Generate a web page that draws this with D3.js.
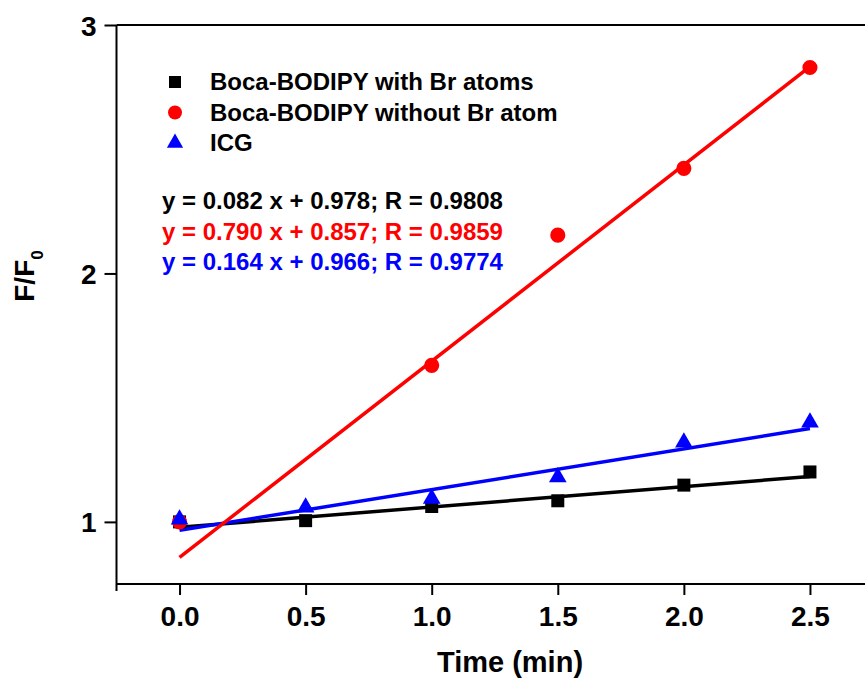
<!DOCTYPE html>
<html lang="en">
<head>
<meta charset="UTF-8">
<title>F/F0 vs time</title>
<script src="https://cdn.jsdelivr.net/npm/d3@7/dist/d3.min.js"></script>
<style>
body { margin: 0; background: #fff; }
text { font-family: "Liberation Sans", Arial, sans-serif; font-weight: bold; }
</style>
</head>
<body>
<svg width="865" height="678"></svg>
<script>
// data
var seriesNames = ["Boca-BODIPY with Br atoms", "Boca-BODIPY without Br atom", "ICG"];
var colors = ["#000000", "#ff0000", "#0000ff"];
var brX = [0, 0.5, 1.0, 1.5, 2.0, 2.5];
var brY = [1.00, 1.005, 1.062, 1.085, 1.148, 1.201];
var noBrX = [0, 1.0, 1.5, 2.0, 2.5];
var noBrY = [1.00, 1.63, 2.154, 2.423, 2.829];
var icgX = [0, 0.5, 1.0, 1.5, 2.0, 2.5];
var icgY = [1.01, 1.058, 1.094, 1.18, 1.32, 1.40];
var slopes = [0.082, 0.790, 0.164];
var intercepts = [0.978, 0.857, 0.966];
var rValues = ["0.9808", "0.9859", "0.9774"];
var xTicks = [0, 0.5, 1.0, 1.5, 2.0, 2.5];
var yTicks = [1, 2, 3];

var svg = d3.select("svg");
var x = d3.scaleLinear().domain([-0.25, 2.75]).range([116.5, 873]);
var y = d3.scaleLinear().domain([0.75, 3]).range([584, 25]);

// axes
var xAxis = svg.append("g").attr("transform", "translate(0,584)");
xAxis.call(d3.axisBottom(x).tickValues(d3.range(-0.25, 2.76, 0.25)).tickSize(7).tickFormat(""));
xAxis.call(d3.axisBottom(x).tickValues(xTicks).tickSize(11).tickPadding(11).tickFormat(d3.format(".1f")));
var yAxis = svg.append("g").attr("transform", "translate(116.5,0)");
yAxis.call(d3.axisLeft(y).tickValues([1.5, 2.5]).tickSize(7).tickFormat(""));
yAxis.call(d3.axisLeft(y).tickValues(yTicks).tickSize(12).tickPadding(8).tickFormat(d3.format("d")));
svg.selectAll(".domain").remove();
svg.selectAll(".tick line").attr("stroke", "#000").attr("stroke-width", 2);
svg.selectAll(".tick text").attr("fill", "#000").style("font-size", "28px");
xAxis.selectAll(".tick text").attr("dy", "0.71em");
yAxis.selectAll(".tick text").attr("dy", "0.36em");

// frame
svg.append("line").attr("x1", x(-0.25)).attr("x2", x(2.75)).attr("y1", y(0.75)).attr("y2", y(0.75))
  .attr("stroke", "#000").attr("stroke-width", 2);
svg.append("line").attr("x1", x(-0.25)).attr("x2", x(2.75)).attr("y1", y(3)).attr("y2", y(3))
  .attr("stroke", "#000").attr("stroke-width", 2);
svg.append("line").attr("x1", x(-0.25)).attr("x2", x(-0.25)).attr("y1", y(3)).attr("y2", y(0.75) + 7)
  .attr("stroke", "#000").attr("stroke-width", 2);

// axis titles
svg.append("text").attr("x", 510).attr("y", 672).attr("text-anchor", "middle")
  .style("font-size", "29px").text("Time (min)");
var yt = svg.append("text").attr("transform", "translate(34,276) rotate(-90)")
  .attr("text-anchor", "middle").style("font-size", "28px");
yt.append("tspan").text("F/F");
yt.append("tspan").attr("dy", 9).style("font-size", "17px").text("0");

// fit lines
var fits = slopes.map(function(s, i) {
  return [[0, intercepts[i]], [2.5, s * 2.5 + intercepts[i]]];
});
var line = d3.line().x(function(d) { return x(d[0]); }).y(function(d) { return y(d[1]); });
[0, 2, 1].forEach(function(i) {
  svg.append("path").attr("d", line(fits[i])).attr("fill", "none")
    .attr("stroke", colors[i]).attr("stroke-width", 3.5);
});

// markers
var shapes = [d3.symbolSquare, d3.symbolCircle, d3.symbolTriangle];
var sizes = [169, 180, 135];
var series = [[brX, brY], [noBrX, noBrY], [icgX, icgY]];
series.forEach(function(s, i) {
  svg.append("g").selectAll("path").data(s[0]).enter().append("path")
    .attr("d", d3.symbol().type(shapes[i]).size(sizes[i]))
    .attr("transform", function(d, j) { return "translate(" + x(d) + "," + y(s[1][j]) + ")"; })
    .attr("fill", colors[i]);
});

// legend
var legend = svg.append("g");
seriesNames.forEach(function(n, i) {
  var ly = 82 + i * 30.5;
  legend.append("path").attr("d", d3.symbol().type(shapes[i]).size(sizes[i] * 0.85))
    .attr("transform", "translate(175," + ly + ")").attr("fill", colors[i]);
  legend.append("text").attr("x", 210).attr("y", ly + 8).style("font-size", "24px")
    .attr("fill", "#000").text(n);
});

// fit equations
slopes.forEach(function(s, i) {
  svg.append("text").attr("x", 162).attr("y", 209 + i * 30.5).style("font-size", "24px")
    .attr("fill", colors[i])
    .text("y = " + s.toFixed(3) + " x + " + intercepts[i].toFixed(3) + "; R = " + rValues[i]);
});
</script>
</body>
</html>
